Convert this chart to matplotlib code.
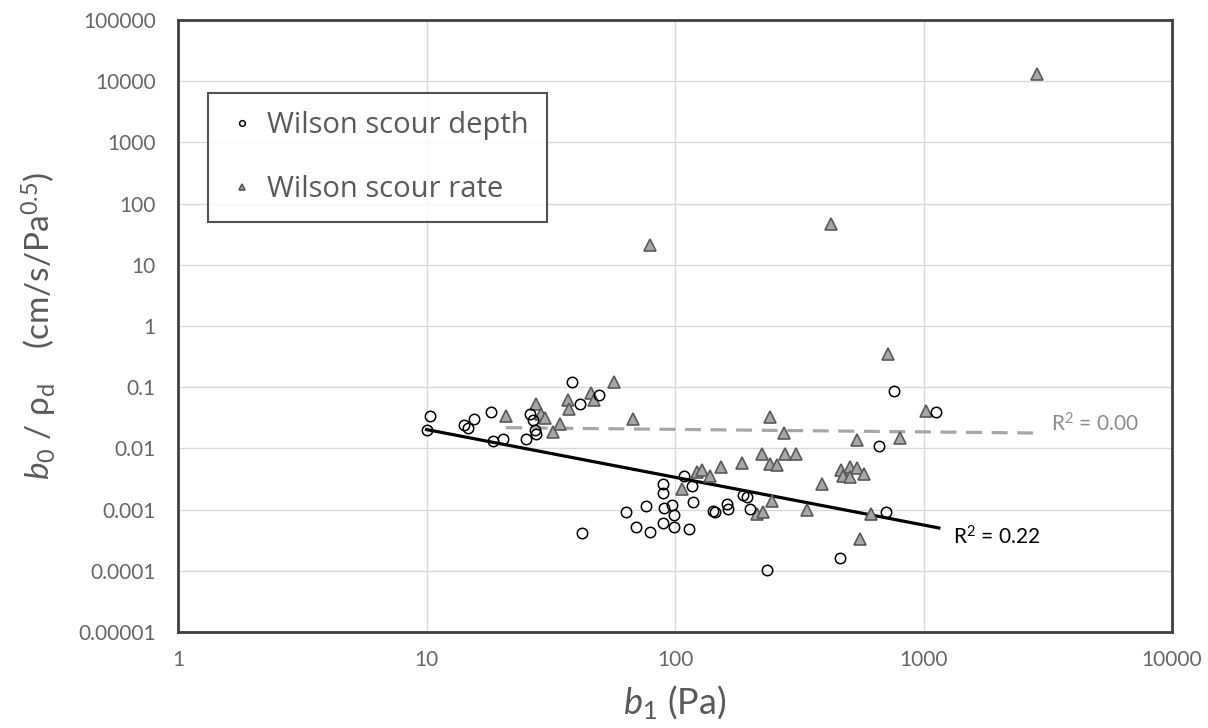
import numpy as np
import matplotlib
matplotlib.use("Agg")
import matplotlib.pyplot as plt

# ---- data ----
depth_x = [10, 10.3, 14.2, 14.7, 15.5, 18.1, 18.5, 20.3, 25.1, 26, 26.8, 27.2, 27.5,
           38.5, 41.4, 49.5, 42.3, 63.4, 69.6, 76.4, 79.3, 89.7, 89.7, 89.7, 90.7,
           96.8, 98.6, 98.6, 108.6, 114, 118, 117, 142.6, 145, 162.6, 164, 188.4,
           194.6, 200, 234, 462, 665, 708, 760, 1127]
depth_y = [0.0203, 0.0344, 0.0238, 0.0219, 0.0307, 0.0399, 0.013, 0.0144, 0.0144,
           0.037, 0.0288, 0.0197, 0.017, 0.122, 0.054, 0.074, 0.00041, 0.0009,
           0.00051, 0.00116, 0.000425, 0.0026, 0.00185, 0.0006, 0.00105, 0.0012,
           0.00083, 0.00051, 0.0036, 0.00049, 0.00132, 0.0024, 0.00096, 0.0009,
           0.00124, 0.00103, 0.0017, 0.00159, 0.00103, 0.000103, 0.00016, 0.0108,
           0.0009, 0.087, 0.039]

rate_x = [20.9, 27.7, 29, 30, 32.3, 34.4, 37.1, 37.5, 45.7, 47.2, 56.8, 67.9, 79.3,
          107, 123, 128, 137.7, 153, 186, 214, 224, 227, 242, 242, 246, 257, 273.6,
          278, 307, 340, 391, 425, 466, 475, 508, 508, 540, 540, 553, 575, 615, 718,
          807, 1028, 2870]
rate_y = [0.0335, 0.054, 0.036, 0.0318, 0.0185, 0.0254, 0.061, 0.0447, 0.079, 0.061,
          0.122, 0.0307, 21.3, 0.0022, 0.0041, 0.0044, 0.0036, 0.0049, 0.0058,
          0.00086, 0.0082, 0.0009, 0.0327, 0.0056, 0.0014, 0.0053, 0.0178, 0.0082,
          0.0082, 0.00099, 0.0026, 47, 0.0044, 0.0036, 0.0049, 0.0034, 0.0047,
          0.0135, 0.00033, 0.0038, 0.00085, 0.348, 0.015, 0.041, 13000]

# power-law trend lines y = a * x**b, [a, b, x_start, x_end]
depth_trend = [0.1224, -0.78, 10, 1153]
rate_trend = [0.0247, -0.041, 20.9, 2806]

x_ticks = [1, 10, 100, 1000, 10000]
x_tick_labels = ["1", "10", "100", "1000", "10000"]
y_ticks = [1e-5, 1e-4, 1e-3, 1e-2, 1e-1, 1, 10, 100, 1000, 10000, 100000]
y_tick_labels = ["0.00001", "0.0001", "0.001", "0.01", "0.1", "1", "10", "100",
                 "1000", "10000", "100000"]

# ---- style ----
plt.rcParams['font.family'] = ['Lato', 'DejaVu Sans']
plt.rcParams['mathtext.fontset'] = 'custom'
plt.rcParams['mathtext.rm'] = 'Lato'
plt.rcParams['mathtext.it'] = 'Lato:italic'

fig = plt.figure(figsize=(12.08, 7.28), dpi=100)
ax = fig.add_axes([0.1474, 0.1319, 0.8228, 0.8406])

ax.set_xscale('log')
ax.set_yscale('log')
ax.set_xlim(1, 10000)
ax.set_ylim(1e-5, 1e5)

ax.set_xticks(x_ticks)
ax.set_xticklabels(x_tick_labels)
ax.set_yticks(y_ticks)
ax.set_yticklabels(y_tick_labels)
ax.minorticks_off()
ax.tick_params(axis='both', length=0, labelsize=15, colors='#666666')
ax.tick_params(axis='x', pad=13)
ax.tick_params(axis='y', pad=16)
ax.grid(True, color='#d9d9d9', linewidth=1.0)
ax.set_axisbelow(True)
for s in ax.spines.values():
    s.set_color('#404040')
    s.set_linewidth(2.0)

# trend lines
tx = np.logspace(np.log10(depth_trend[2]), np.log10(depth_trend[3]), 50)
ax.plot(tx, depth_trend[0] * tx ** depth_trend[1], color='black', lw=2.3, zorder=3)
tx2 = np.logspace(np.log10(rate_trend[2]), np.log10(rate_trend[3]), 50)
ax.plot(tx2, rate_trend[0] * tx2 ** rate_trend[1], color='#a6a6a6', lw=2.3,
        ls=(0, (5, 3)), zorder=2)

# scatter
ax.plot(rate_x, rate_y, ls='none', marker='^', markersize=9,
        markerfacecolor='#a6a6a6', markeredgecolor='#595959', markeredgewidth=1.2,
        zorder=4, label='Wilson scour rate')
ax.plot(depth_x, depth_y, ls='none', marker='o', markersize=7.5,
        markerfacecolor='none', markeredgecolor='black', markeredgewidth=1.1,
        zorder=5, label='Wilson scour depth')

# R^2 labels
ax.text(3250, 0.025, "R$^2$ = 0.00", color='#8c8c8c', fontsize=15, va='center')
ax.text(1320, 0.00036, "R$^2$ = 0.22", color='black', fontsize=15, va='center')

# legend
h, l = ax.get_legend_handles_labels()
leg = ax.legend(h[::-1], l[::-1], loc='upper left', bbox_to_anchor=(0.0302, 0.881),
                borderaxespad=0, frameon=True, fancybox=False, markerscale=0.55,
                handlelength=1.1, handletextpad=0.3, borderpad=0.62, labelspacing=1.2,
                labelcolor='#595959', prop={'family': 'Open Sans', 'size': 21})
leg.get_frame().set_edgecolor('#262626')
leg.get_frame().set_linewidth(1.5)

ax.set_xlabel("$b$$_1$ (Pa)", fontsize=26, color='#595959', labelpad=10)
ax.set_ylabel("$b_0$ / ρ$_\\mathrm{d}$    (cm/s/Pa$^{0.5}$)", fontsize=24,
              color='#595959', labelpad=14)

fig.savefig("out.png", dpi=100)
